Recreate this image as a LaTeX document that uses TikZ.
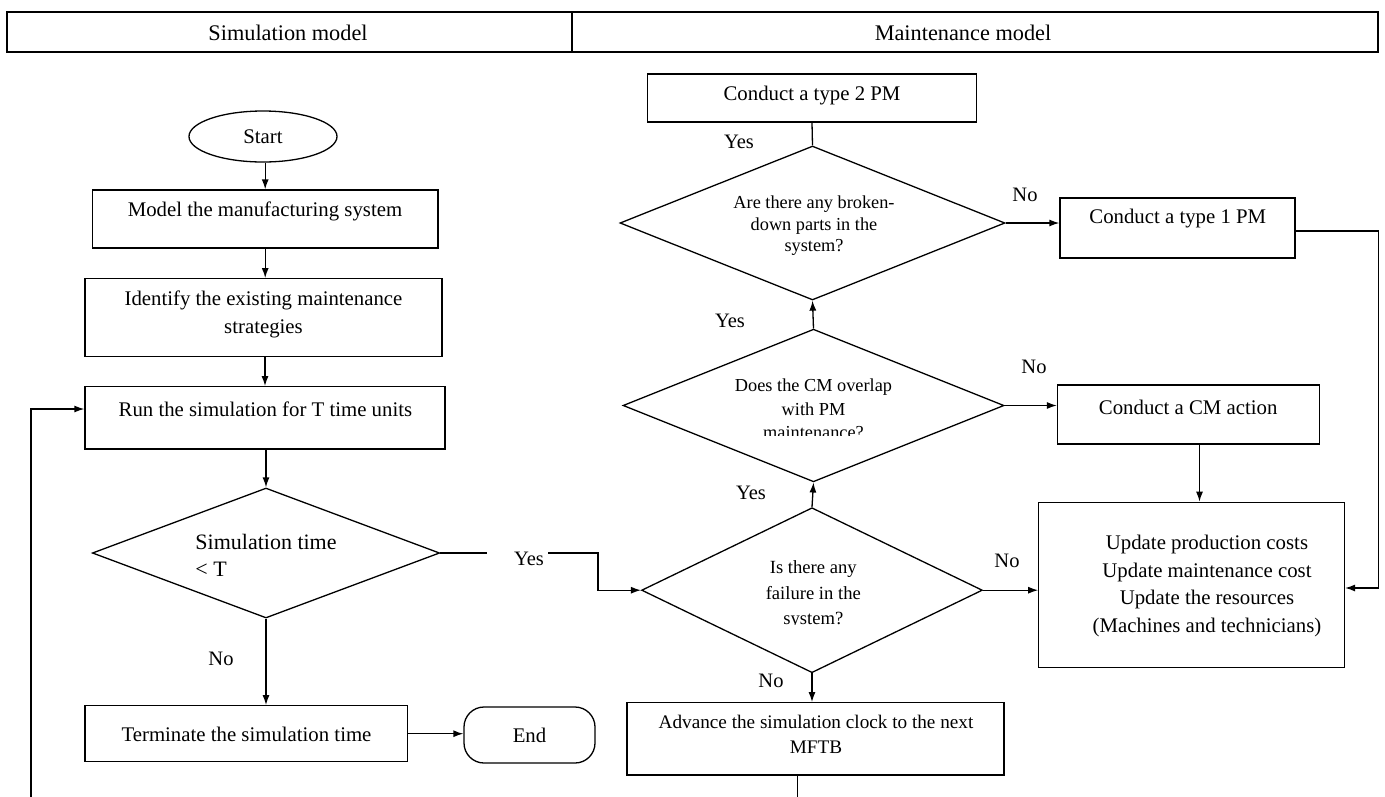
\documentclass[tikz,border=0pt]{standalone}
\usepackage{fontspec}
\setmainfont{Liberation Serif}
\usetikzlibrary{shapes.geometric,arrows.meta}
\begin{document}
\begin{tikzpicture}[x=1pt,y=-1pt, line width=1.3pt,
  box/.style={draw, rectangle, inner sep=0pt},
  dia/.style={draw, diamond, inner sep=0pt},
  txt/.style={inner sep=0pt, font=\fontsize{20.8}{27.7}\selectfont, align=center},
  htxt/.style={inner sep=0pt, font=\fontsize{22.3}{27}\selectfont},
  dtxt/.style={inner sep=0pt, align=center},
  lbl/.style={inner sep=0pt, font=\fontsize{20.5}{25}\selectfont},
  arr/.style={-{Latex[length=10pt,width=7pt]}},
]
\useasboundingbox (0,0) rectangle (1385,796);
\clip (0,0) rectangle (1385,796);

% header
\node[box, minimum width=565pt, minimum height=40pt] (hsim) at (289.5,32) {};
\node[box, minimum width=806pt, minimum height=40pt] (hmnt) at (975,32) {};
\node[htxt] (hsimt) at (288,33) {Simulation model};
\node[htxt] (hmntt) at (963,33) {Maintenance model};

% left column
\node[draw, ellipse, minimum width=148pt, minimum height=51pt, txt] (start) at (263,136.5) {Start};
\node[box, minimum width=345.6pt, minimum height=58pt] (model) at (265.2,219) {};
\node[txt] (modelt) at (265,211) {Model the manufacturing system};
\node[box, minimum width=357pt, minimum height=78pt] (ident) at (263.5,317.7) {};
\node[txt] (identt) at (263.5,314.3) {Identify the existing maintenance\\strategies};
\node[box, minimum width=360pt, minimum height=62.3pt] (run) at (265,417.85) {};
\node[txt] (runt) at (265.4,409) {Run the simulation for T time units};
\node[dia, minimum width=347.3pt, minimum height=130pt] (sim) at (266,553) {};
\node[dtxt, align=left, font=\fontsize{22}{27.3}\selectfont] (simt) at (266,555.3) {Simulation time\\< T};
\node[box, minimum width=322.6pt, minimum height=56pt] (term) at (246.3,733.7) {};
\node[txt] (termt) at (246.5,734) {Terminate the simulation time};
\node[draw, rounded corners=20pt, minimum width=131pt, minimum height=56pt, txt] (endn) at (529.5,735) {End};

% right column
\node[box, minimum width=329pt, minimum height=48pt] (pm2) at (812,98) {};
\node[txt] (pm2t) at (812,96) {Conduct a type 2 PM};
\node[dia, minimum width=385pt, minimum height=154pt] (brk) at (812.5,223) {};
\node[dtxt, font=\fontsize{18.3}{21.5}\selectfont] (brkt) at (814,225.7) {Are there any broken-\\down parts in the\\system?};
\node[box, minimum width=235pt, minimum height=60pt] (pm1) at (1177.5,228) {};
\node[txt] (pm1t) at (1177.8,219) {Conduct a type 1 PM};
\node[dia, minimum width=381pt, minimum height=152.7pt] (cm) at (813.5,405.5) {};
\begin{scope}
\clip (600,360) rectangle (1030,435.5);
\node[dtxt, font=\fontsize{18.3}{23.3}\selectfont] (cmt) at (813.5,409) {Does the CM overlap\\with PM\\maintenance?};
\end{scope}
\node[box, minimum width=262pt, minimum height=59pt] (cma) at (1188.5,414.5) {};
\node[txt] (cmat) at (1188.2,407) {Conduct a CM action};
\node[dia, minimum width=340.8pt, minimum height=165pt] (fail) at (812,590.2) {};
\begin{scope}
\clip (600,540) rectangle (1030,624);
\node[dtxt, font=\fontsize{18.6}{25.5}\selectfont] (failt) at (813.3,594.7) {Is there any\\failure in the\\system?};
\end{scope}
\node[box, minimum width=305.6pt, minimum height=165pt] (upd) at (1191.6,584.8) {};
\node[txt] (updt) at (1207,586) {Update production costs\\Update maintenance cost\\Update the resources\\(Machines and technicians)};
\node[box, minimum width=377pt, minimum height=72.3pt] (mftb) at (815.5,738.85) {};
\node[dtxt, font=\fontsize{19.2}{25}\selectfont] (mftbt) at (816,734.4) {Advance the simulation clock to the next\\MFTB};

% labels
\node[lbl] (lno1) at (221,659) {No};
\node[lbl] (lyes1) at (529,559) {Yes};
\node[lbl] (lyes2) at (739,142) {Yes};
\node[lbl] (lno2) at (1025,195) {No};
\node[lbl] (lyes3) at (730,321) {Yes};
\node[lbl] (lno3) at (1034,367) {No};
\node[lbl] (lyes4) at (751,493) {Yes};
\node[lbl] (lno4) at (1007,561) {No};
\node[lbl] (lno5) at (771,681) {No};

% coordinates
\coordinate (g1) at (486.6,553);
\coordinate (g2) at (548,553);
\coordinate (c1) at (598,553);
\coordinate (c2) at (1378.5,588);
\coordinate (lb) at (797.6,830);
\coordinate (la) at (31,830);
\coordinate (lt) at (31,409);

% connectors
\draw[arr] (model.north |- start.south) -- (model.north);
\draw[arr] (model.south) -- (model.south |- ident.north);
\draw[arr] (run.north |- ident.south) -- (run.north);
\draw[arr] (sim.north |- run.south) -- (sim.north);
\draw[arr] (sim.south) -- (sim.south |- term.north);
\draw[arr] (term.east) -- (endn.west |- term.east);
\draw (sim.east) -- (g1);
\draw[arr] (g2) -- (c1) |- (fail.west);
\draw[arr] (fail.north) -- (cm.south);
\draw[arr] (cm.north) -- (brk.south);
\draw (brk.north) -- (pm2.south);
\draw[arr] (brk.east) -- (pm1.west |- brk.east);
\draw[arr] ([yshift=-3pt]pm1.east) -| (c2) -- (upd.east |- c2);
\draw[arr] (cm.east) -- (cma.west |- cm.east);
\draw[arr] ([xshift=11pt]cma.south) -- ([xshift=11pt]cma.south |- upd.north);
\draw[arr] (fail.east) -- (upd.west |- fail.east);
\draw[arr] (fail.south) -- (fail.south |- mftb.north);
\draw[arr] (mftb.south -| lb) -- (lb) -- (la) -- (lt) -- (lt -| run.west);
\end{tikzpicture}
\end{document}
